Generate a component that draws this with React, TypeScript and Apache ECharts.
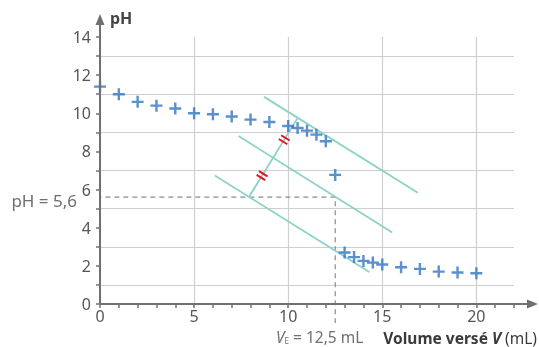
import React, { useEffect, useRef } from "react";
import * as echarts from "echarts";

// ---- Data ----
const volumes = [0, 1, 2, 3, 4, 5, 6, 7, 8, 9, 10, 10.5, 11, 11.5, 12, 12.5, 13, 13.5, 14, 14.5, 15, 16, 17, 18, 19, 20];
const phValues = [11.4, 11.0, 10.6, 10.4, 10.25, 10.0, 9.95, 9.83, 9.67, 9.54, 9.33, 9.23, 9.09, 8.88, 8.53, 6.77, 2.7, 2.46, 2.26, 2.17, 2.07, 1.93, 1.84, 1.7, 1.65, 1.61];

const tangentUpper = [[8.72, 10.86], [16.89, 5.83]];
const tangentMiddle = [[7.36, 8.81], [15.53, 3.75]];
const tangentLower = [[6.1, 6.74], [14.31, 1.68]];
const connector = [[7.92, 5.62], [10.48, 9.72]];
const tickFractions = [0.27, 0.73];

const equivV = 12.5;
const equivPH = 5.6;
const dashedGuide = [[-1.15, equivPH], [equivV, equivPH], [equivV, -1.0]];

const xLabelsShown = [0, 5, 10, 15, 20];
const yLabelsShown = [0, 2, 4, 6, 8, 10, 12, 14];

// ---- Layout ----
const GL = 100, GT = 37, GW = 414, GH = 267;
const AXIS_COLOR = "#707070";
const FONT = "'Noto Sans', sans-serif";

export default function App() {
  const ref = useRef<HTMLDivElement>(null);
  useEffect(() => {
    if (!ref.current) return;
    const chart = echarts.init(ref.current, undefined, { renderer: "svg" });
    const teal = "#8ad3c6";
    const tangentSeries = (d: number[][]) => ({
      type: "line",
      data: d,
      showSymbol: false,
      silent: true,
      clip: false,
      lineStyle: { color: teal, width: 1.8 },
      z: 2,
    });
    const x0 = GL, y0 = GT + GH;
    chart.setOption({
      animation: false,
      grid: { left: GL, top: GT, width: GW, height: GH, show: false },
      xAxis: {
        type: "value",
        min: 0,
        max: 22,
        interval: 1,
        axisLine: { show: false },
        axisTick: { show: true, length: 4, lineStyle: { color: AXIS_COLOR, width: 1.5 } },
        axisLabel: {
          interval: 0,
          margin: 5,
          fontSize: 16,
          lineHeight: 14,
          color: "#555",
          fontFamily: FONT,
          formatter: (v: number) => (xLabelsShown.includes(v) ? String(v) : ""),
        },
        splitLine: {
          show: true,
          lineStyle: { color: ["#cfcfcf", "transparent", "transparent", "transparent", "transparent"], width: 1.2 },
        },
      },
      yAxis: {
        type: "value",
        min: 0,
        max: 14,
        interval: 1,
        axisLine: { show: false },
        axisTick: { show: true, length: 4, lineStyle: { color: AXIS_COLOR, width: 1.5 } },
        axisLabel: {
          interval: 0,
          margin: 9,
          fontSize: 16,
          lineHeight: 14,
          color: "#555",
          fontFamily: FONT,
          formatter: (v: number) => (yLabelsShown.includes(v) ? String(v) : ""),
        },
        splitLine: {
          show: true,
          lineStyle: { color: ["transparent", "#cfcfcf"], width: 1.2 },
        },
      },
      series: [
        {
          type: "line",
          data: dashedGuide,
          showSymbol: false,
          clip: false,
          silent: true,
          lineStyle: { color: "#8a8a8a", width: 1.2, type: [5, 4] },
          z: 1,
        },
        tangentSeries(tangentUpper),
        tangentSeries(tangentMiddle),
        tangentSeries(tangentLower),
        tangentSeries(connector),
        {
          type: "custom",
          data: tickFractions,
          silent: true,
          z: 4,
          renderItem: (params: any, api: any) => {
            const f = api.value(0);
            const p0 = api.coord(connector[0]);
            const p1 = api.coord(connector[1]);
            const dx = p1[0] - p0[0], dy = p1[1] - p0[1];
            const len = Math.hypot(dx, dy);
            const ux = dx / len, uy = dy / len;
            const nx = -uy, ny = ux;
            const cx = p0[0] + dx * f, cy = p0[1] + dy * f;
            const half = 5, gap = 2.2;
            const mk = (o: number) => ({
              type: "line",
              shape: {
                x1: cx + ux * o - nx * half,
                y1: cy + uy * o - ny * half,
                x2: cx + ux * o + nx * half,
                y2: cy + uy * o + ny * half,
              },
              style: { stroke: "#e3121b", lineWidth: 2 },
            });
            return { type: "group", children: [mk(-gap), mk(gap)] };
          },
        },
        {
          type: "scatter",
          data: volumes.map((v, i) => [v, phValues[i]]),
          symbol: "path://M4,0H6V4H10V6H6V10H4V6H0V4H4Z",
          symbolSize: 12,
          itemStyle: { color: "#2f74c0" },
          z: 5,
        },
      ],
      graphic: [
        // y axis line + arrow
        { type: "line", shape: { x1: x0, y1: y0, x2: x0, y2: 22 }, style: { stroke: AXIS_COLOR, lineWidth: 2 }, z: 10 },
        { type: "polygon", shape: { points: [[x0, 14], [x0 - 4.5, 25], [x0 + 4.5, 25]] }, style: { fill: AXIS_COLOR }, z: 10 },
        // x axis line + arrow
        { type: "line", shape: { x1: x0, y1: y0, x2: 530, y2: y0 }, style: { stroke: AXIS_COLOR, lineWidth: 2 }, z: 10 },
        { type: "polygon", shape: { points: [[538, y0], [527, y0 - 4.5], [527, y0 + 4.5]] }, style: { fill: AXIS_COLOR }, z: 10 },
        {
          type: "text",
          left: 110,
          top: 10,
          style: { text: "pH", font: `bold 16px ${FONT}`, fill: "#444" },
          z: 10,
        },
        {
          type: "text",
          x: 77,
          y: 200,
          style: { text: "pH = 5,6", font: `17px ${FONT}`, fill: "#6f6f6f", align: "right", verticalAlign: "middle" },
          z: 10,
        },
        {
          type: "text",
          x: 276,
          y: 337,
          style: {
            text: "{v|V}{s|E}{t| = 12,5 mL}",
            fill: "#6f6f6f",
            verticalAlign: "middle",
            rich: {
              v: { font: `italic 15.5px ${FONT}`, fill: "#6f6f6f", lineHeight: 14 },
              s: { font: `8px ${FONT}`, fill: "#6f6f6f", lineHeight: 8, padding: [6, 0, 0, 0] },
              t: { font: `15.5px ${FONT}`, fill: "#6f6f6f", lineHeight: 14 },
            },
          },
          z: 10,
        },
        {
          type: "text",
          x: 537,
          y: 337.5,
          style: {
            text: "{b|Volume versé }{bi|V}{n| (mL)}",
            align: "right",
            verticalAlign: "middle",
            rich: {
              b: { font: `bold 15.5px ${FONT}`, fill: "#3a3a3a", lineHeight: 13 },
              bi: { font: `bold italic 15.5px ${FONT}`, fill: "#3a3a3a", lineHeight: 13 },
              n: { font: `15.5px ${FONT}`, fill: "#3a3a3a", lineHeight: 13 },
            },
          },
          z: 10,
        },
      ],
    });
    return () => chart.dispose();
  }, []);
  return <div ref={ref} style={{ position: "fixed", left: 0, top: 0, width: 539, height: 347 }} />;
}
